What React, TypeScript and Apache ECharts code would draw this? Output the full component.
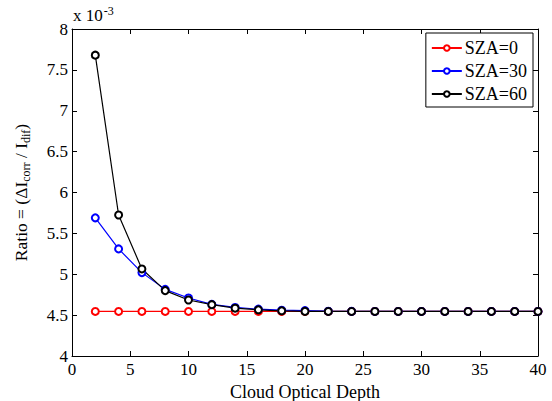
import React, { useEffect, useRef } from "react";
import * as echarts from "echarts";

const depth = [2, 4, 6, 8, 10, 12, 14, 16, 18, 20, 22, 24, 26, 28, 30, 32, 34, 36, 38, 40];
const sza0 = [4.545, 4.545, 4.545, 4.545, 4.545, 4.545, 4.545, 4.545, 4.545, 4.545, 4.545, 4.545, 4.545, 4.545, 4.545, 4.545, 4.545, 4.545, 4.545, 4.545];
const sza30 = [5.69, 5.31, 5.02, 4.815, 4.71, 4.632, 4.594, 4.573, 4.56, 4.556, 4.548, 4.546, 4.545, 4.545, 4.545, 4.545, 4.545, 4.545, 4.545, 4.545];
const sza60 = [7.68, 5.725, 5.065, 4.8, 4.685, 4.628, 4.585, 4.565, 4.553, 4.546, 4.545, 4.545, 4.545, 4.545, 4.545, 4.545, 4.545, 4.545, 4.545, 4.545];
const seriesNames = ["SZA=0", "SZA=30", "SZA=60"];
const seriesColors = ["#ff0000", "#0000ff", "#000000"];

const FONT = "Times New Roman";

export default function App() {
  const ref = useRef<HTMLDivElement>(null);
  useEffect(() => {
    if (!ref.current) return;
    const chart = echarts.init(ref.current, undefined, { renderer: "svg" });
    const allData = [sza0, sza30, sza60];
    const serif = (size: number) => ({ fontFamily: FONT, fontSize: size, color: "#000" });
    const baseAxis = {
      axisLine: { show: true, onZero: false, lineStyle: { color: "#000", width: 1 } },
      axisTick: { show: true, inside: true, length: 5, lineStyle: { color: "#000" } },
      splitLine: { show: false },
    };
    chart.setOption({
      animation: false,
      backgroundColor: "#fff",
      textStyle: { fontFamily: FONT },
      grid: { left: 72, right: 14, top: 29, bottom: 45, containLabel: false, outerBoundsMode: "none" },
      legend: {
        orient: "vertical",
        right: 19,
        top: 33,
        backgroundColor: "#fff",
        borderColor: "#000",
        borderWidth: 1,
        borderRadius: 0,
        padding: [6, 6, 4, 5],
        itemGap: 5,
        itemWidth: 30,
        itemHeight: 7,
        textStyle: { ...serif(18), padding: [0, 0, 0, -2] },
        data: seriesNames,
      },
      graphic: [
        {
          type: "text",
          left: 73,
          top: 5,
          style: {
            text: "{a|x 10}{sup|-3}",
            fontFamily: FONT,
            fontSize: 17,
            fill: "#000",
            rich: {
              a: { fontSize: 17, fontFamily: FONT, lineHeight: 19, verticalAlign: "bottom" },
              sup: { fontSize: 12, fontFamily: FONT, verticalAlign: "top", lineHeight: 19, padding: [0, 0, 8, 1] },
            },
          },
        },
      ],
      xAxis: [
        {
          ...baseAxis,
          type: "value",
          min: 0,
          max: 40,
          interval: 5,
          position: "bottom",
          name: "Cloud Optical Depth",
          nameLocation: "middle",
          nameGap: 23,
          nameTextStyle: serif(18),
          axisLabel: { ...serif(17), margin: 5 },
        },
        {
          ...baseAxis,
          type: "value",
          min: 0,
          max: 40,
          interval: 5,
          position: "top",
          axisLabel: { show: false },
        },
      ],
      yAxis: [
        {
          ...baseAxis,
          type: "value",
          min: 4,
          max: 8,
          interval: 0.5,
          position: "left",
          name: "Ratio = (ΔI{sub|corr} / I{sub|dif})",
          nameLocation: "middle",
          nameGap: 40,
          nameRotate: 90,
          nameTextStyle: {
            ...serif(17.5),
            lineHeight: 22,
            rich: {
              sub: { ...serif(12), verticalAlign: "bottom", lineHeight: 22, padding: [10, 0, 0, 0] },
            },
          },
          axisLabel: { ...serif(17), margin: 4 },
        },
        {
          ...baseAxis,
          type: "value",
          min: 4,
          max: 8,
          interval: 0.5,
          position: "right",
          axisLabel: { show: false },
        },
      ],
      series: seriesNames.map((name, i) => ({
        name,
        type: "line",
        xAxisIndex: 0,
        yAxisIndex: 0,
        data: depth.map((d, j) => [d, allData[i][j]]),
        symbol: "emptyCircle",
        symbolSize: 7,
        showSymbol: true,
        lineStyle: { color: seriesColors[i], width: 1.2 },
        itemStyle: { color: seriesColors[i], borderWidth: 1.3 },
      })),
    });
    return () => chart.dispose();
  }, []);
  return (
    <div
      ref={ref}
      style={{ width: 552, height: 401, position: "fixed", left: 0, top: 0 }}
    />
  );
}
